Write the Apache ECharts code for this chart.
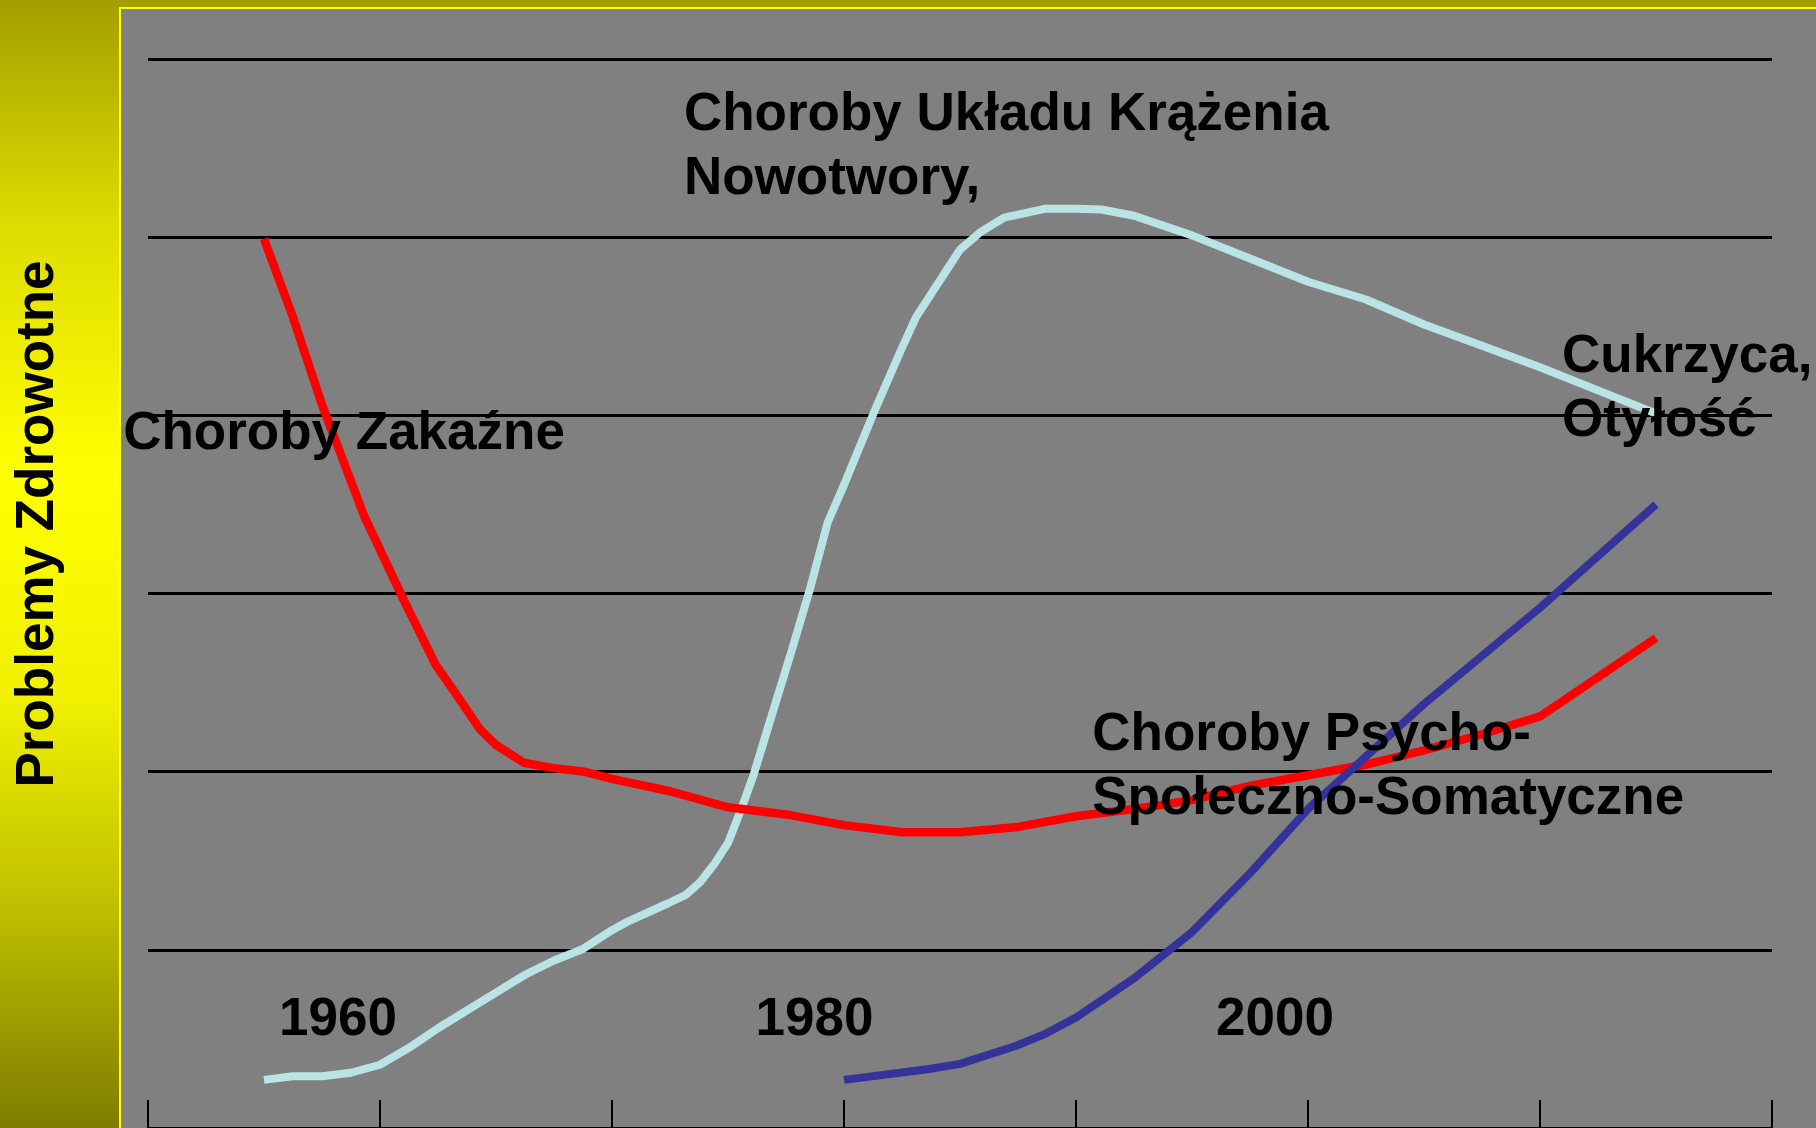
<!DOCTYPE html>
<html>
<head>
<meta charset="utf-8">
<script src="https://cdn.jsdelivr.net/npm/echarts@6/dist/echarts.min.js"></script>
<style>
html,body{margin:0;padding:0;background:#808080;overflow:hidden;}
#c{width:1816px;height:1128px;}
</style>
</head>
<body>
<div id="c"></div>
<script>
// ---- data (x = year, y = relative importance of health problems) ----
const redYears = [1955, 1956.25, 1957.5, 1959.3, 1961, 1962.4, 1963.2, 1964.3, 1965, 1966.2, 1967.5, 1968.8, 1970, 1972.5, 1975, 1977.5, 1980, 1982.5, 1985, 1987.5, 1990, 1992.5, 1995, 1997.5, 2000, 2002.5, 2005, 2007.5, 2010, 2012.5, 2015];
const redValues = [4.99, 4.55, 4.06, 3.44, 2.97, 2.60, 2.45, 2.24, 2.15, 2.05, 2.02, 2.00, 1.96, 1.89, 1.80, 1.76, 1.70, 1.66, 1.66, 1.69, 1.75, 1.79, 1.84, 1.92, 1.98, 2.04, 2.12, 2.21, 2.31, 2.53, 2.75];

const cyanYears = [1955, 1956.25, 1957.5, 1958.75, 1960, 1961.25, 1962.5, 1963.75, 1965, 1966.25, 1967.5, 1968.75, 1970, 1970.7, 1972.4, 1973.2, 1973.8, 1974.4, 1975, 1975.6, 1976.1, 1976.8, 1977.7, 1978.5, 1979.3, 1980, 1981.3, 1982.4, 1983.1, 1983.8, 1984.4, 1985, 1985.9, 1986.9, 1988.7, 1990, 1991.1, 1992.5, 1995, 1997.5, 2000, 2002.5, 2005, 2007.5, 2010, 2012.5, 2015];
const cyanValues = [0.27, 0.29, 0.29, 0.31, 0.355, 0.45, 0.56, 0.66, 0.76, 0.86, 0.94, 1.005, 1.11, 1.16, 1.26, 1.31, 1.38, 1.48, 1.60, 1.80, 1.98, 2.28, 2.66, 3.01, 3.40, 3.61, 4.02, 4.35, 4.55, 4.69, 4.81, 4.93, 5.03, 5.11, 5.16, 5.16, 5.155, 5.12, 5.01, 4.88, 4.75, 4.65, 4.51, 4.39, 4.27, 4.14, 4.01];

const blueYears = [1980, 1983.6, 1985, 1987.4, 1988.7, 1990, 1992.5, 1995, 1997.5, 2000, 2005, 2010, 2015];
const blueValues = [0.27, 0.33, 0.36, 0.46, 0.53, 0.62, 0.84, 1.10, 1.43, 1.79, 2.38, 2.92, 3.50];

// annotation texts anchored in data space
const annoTexts = ['Choroby Układu Krążenia\nNowotwory,', 'Choroby Zakaźne', 'Choroby Psycho-\nSpołeczno-Somatyczne', 'Cukrzyca,\nOtyłość'];
const annoYears = [1973.1, 1958.45, 1990.7, 2010.95];
const annoValues = [5.505, 3.895, 2.026, 4.145];
const annoAlign = ['left', 'center', 'left', 'left'];

const yearLabels = ['1960', '1980', '2000'];
const yearLabelX = [1958.19, 1978.73, 1998.58];
const yearLabelY = [0.605, 0.605, 0.605];

const yAxisTitle = 'Problemy Zdrowotne';

// ---- build ----
const FONT = '"Liberation Sans", Arial, sans-serif';
const zip = (xs, ys) => xs.map((x, i) => [x, ys[i]]);

const chart = echarts.init(document.getElementById('c'), null, {renderer: 'canvas'});

const labelData = annoTexts.map((t, i) => ({
  name: t,
  value: [annoYears[i], annoValues[i]],
  label: {align: annoAlign[i]}
})).concat(yearLabels.map((t, i) => ({
  name: t,
  value: [yearLabelX[i], yearLabelY[i]],
  label: {align: 'center'}
})));

chart.setOption({
  animation: false,
  backgroundColor: 'transparent',
  graphic: [
    {
      type: 'rect', z: -20, silent: true,
      shape: {x: 0, y: 0, width: 1816, height: 1128},
      style: {
        fill: new echarts.graphic.LinearGradient(0, 0, 0, 1, [
          {offset: 0, color: '#a49f00'},
          {offset: 0.2, color: '#dedc00'},
          {offset: 0.42, color: '#ffff00'},
          {offset: 0.62, color: '#f0f000'},
          {offset: 0.8, color: '#c0c000'},
          {offset: 1, color: '#7e7d00'}
        ])
      }
    },
    {
      type: 'rect', z: -19, silent: true,
      shape: {x: 120, y: 8, width: 1710, height: 1130},
      style: {fill: '#808080', stroke: '#ffff00', lineWidth: 2}
    },
    {
      type: 'text', z: -18, silent: true,
      x: 38, y: 524, rotation: Math.PI / 2,
      style: {
        text: yAxisTitle,
        fontFamily: FONT, fontWeight: 'bold', fontSize: 53,
        fill: '#000', align: 'center', verticalAlign: 'middle'
      }
    }
  ],
  grid: {left: 148, right: 44, top: 59, bottom: 0, containLabel: false},
  xAxis: {
    type: 'value', min: 1950, max: 2020, interval: 10, z: 2,
    axisLine: {show: true, lineStyle: {color: '#000', width: 2}},
    axisTick: {show: true, inside: true, length: 28, lineStyle: {color: '#000', width: 2}},
    axisLabel: {show: false},
    splitLine: {show: false}
  },
  yAxis: {
    type: 'value', min: 0, max: 6, interval: 1, z: 2,
    axisLine: {show: false},
    axisTick: {show: false},
    axisLabel: {show: false},
    splitLine: {show: true, lineStyle: {color: '#000', width: 3}}
  },
  series: [
    {
      name: 'Choroby Układu Krążenia, Nowotwory',
      type: 'line', z: 3, symbol: 'none', smooth: false,
      data: zip(cyanYears, cyanValues),
      lineStyle: {color: '#bae3e6', width: 8, join: 'round'}
    },
    {
      name: 'Choroby Zakaźne / Psycho-Społeczno-Somatyczne',
      type: 'line', z: 4, symbol: 'none', smooth: false,
      data: zip(redYears, redValues),
      lineStyle: {color: '#ff0000', width: 8.5, join: 'round'}
    },
    {
      name: 'Cukrzyca, Otyłość',
      type: 'line', z: 5, symbol: 'none', smooth: false,
      data: zip(blueYears, blueValues),
      lineStyle: {color: '#333399', width: 8, join: 'round'}
    },
    {
      name: 'labels',
      type: 'scatter', z: 10, silent: true, clip: false,
      symbolSize: 0.01,
      itemStyle: {color: '#000', opacity: 1},
      emphasis: {disabled: true},
      data: labelData,
      label: {
        show: true, position: 'inside', opacity: 1,
        formatter: p => p.name,
        color: '#000', textBorderWidth: 0, textShadowBlur: 0,
        fontFamily: FONT, fontWeight: 'bold', fontSize: 53,
        lineHeight: 64, verticalAlign: 'middle'
      }
    }
  ]
});
</script>
</body>
</html>
